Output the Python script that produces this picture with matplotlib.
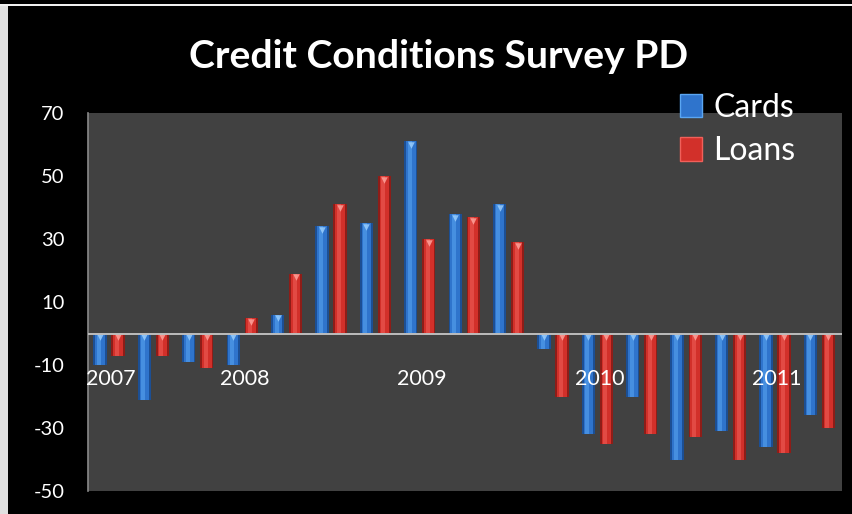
import matplotlib
matplotlib.use("Agg")
import matplotlib.pyplot as plt
from matplotlib.patches import Rectangle
import numpy as np

# quarterly survey balances, 2007 Q2 .. 2011 Q2
cards = [-10, -21, -9, -10, 6, 34, 35, 61, 38, 41, -5, -32, -20, -40, -31, -36, -26]
loans = [-7, -7, -11, 5, 19, 41, 50, 30, 37, 29, -20, -35, -32, -33, -40, -38, -30]
year_labels = ["2007", "2008", "2009", "2010", "2011"]
year_index = [0, 3, 7, 11, 15]
yticks = [70, 50, 30, 10, -10, -30, -50]

FONT = ["Lato", "DejaVu Sans"]
BG = "#000000"
PANEL = "#414141"

# shading for the cylinder look: edge, body, highlight, cap
BLUE = ("#1c4f94", "#2f74cc", "#5aa6f2", "#9fd2ff")
RED = ("#8e1d18", "#d2302a", "#f0605a", "#ffa8a0")

fig = plt.figure(figsize=(8.52, 5.14), dpi=100, facecolor=BG)
W, H = 852, 514

# thin white frame pieces along the top and the left edge
fig.patches.append(Rectangle((0, 1 - 6 / H), 1, 2 / H, transform=fig.transFigure,
                             facecolor="#f0f0f0", edgecolor="none"))
fig.patches.append(Rectangle((0, 0), 8 / W, 1 - 6 / H, transform=fig.transFigure,
                             facecolor="#e0e0e0", edgecolor="none"))

ax = fig.add_axes([88 / W, (H - 491) / H, (842 - 88) / W, (491 - 113) / H])
ax.set_facecolor(PANEL)

x = np.arange(len(cards))
bw = 0.30
off = 0.203


def draw_series(xs, vals, shades):
    edge, body, hi, cap = shades
    ax.bar(xs, vals, width=bw, color=edge, zorder=2)
    ax.bar(xs, vals, width=bw * 0.72, color=body, zorder=3)
    ax.bar(xs - bw * 0.08, vals, width=bw * 0.3, color=hi, alpha=0.55, zorder=4)
    tops = np.maximum(np.array(vals), 0)
    ax.scatter(xs, tops - 1.2, marker="v", s=22, color=cap, alpha=0.8,
               linewidths=0, zorder=5)


draw_series(x - off, cards, BLUE)
draw_series(x + off, loans, RED)

ax.axhline(0, color="#bdbdbd", lw=1.4, zorder=6)

ax.set_xlim(-0.473, 16.51)
ax.set_ylim(-50, 70)
ax.set_yticks(yticks)
ax.set_yticklabels([str(v) for v in yticks], color="white", fontsize=14.5,
                   family=FONT)
ax.tick_params(axis="y", length=0, pad=17)
ax.set_xticks([])

for lab, i in zip(year_labels, year_index):
    ax.text(i + 0.05, -14.3, lab, ha="center", va="center", color="white",
            fontsize=15.5, family=FONT, zorder=7)

for side in ["top", "right", "bottom"]:
    ax.spines[side].set_visible(False)
ax.spines["left"].set_color("#8a8a8a")
ax.spines["left"].set_linewidth(1.2)

fig.text(439 / W, 1 - 56 / H, "Credit Conditions Survey PD", ha="center",
         va="center", color="white", fontsize=28.2, fontweight="bold", family=FONT)

handles = [Rectangle((0, 0), 1, 1, facecolor=BLUE[1], edgecolor=BLUE[2]),
           Rectangle((0, 0), 1, 1, facecolor=RED[1], edgecolor=RED[2])]
fig.legend(handles, ["Cards", "Loans"], loc="upper left",
           bbox_to_anchor=(667 / W, 1 - 80 / H), frameon=False,
           prop={"family": FONT, "size": 23}, labelcolor="white",
           handlelength=0.7, handleheight=0.75, handletextpad=0.35,
           labelspacing=0.42, borderaxespad=0)

fig.savefig("out.png", dpi=100, facecolor=BG)
